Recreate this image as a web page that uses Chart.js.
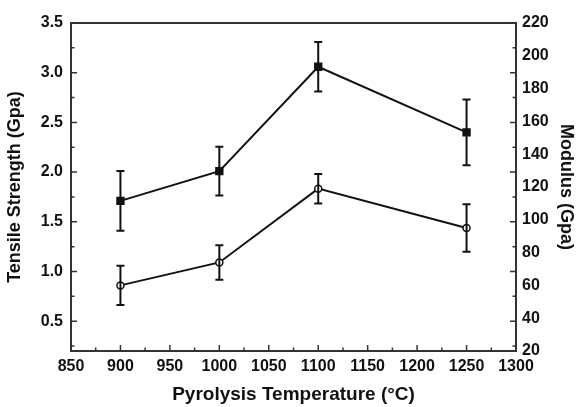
<!DOCTYPE html>
<html>
<head>
<meta charset="utf-8">
<script src="https://cdn.jsdelivr.net/npm/chart.js@4"></script>
<style>
  html, body { margin: 0; padding: 0; background: #fff; }
  #wrap { width: 577px; height: 407px; position: relative; }
</style>
</head>
<body>
<div id="wrap"><canvas id="c"></canvas></div>
<script>
// data
const temps = [900, 1000, 1100, 1250];
const strength = [1.71, 2.01, 3.06, 2.40];
const strengthErr = [0.30, 0.245, 0.25, 0.33];
const modulus = [60, 74, 119, 95];
const modulusErr = [12, 10.5, 9, 14.5];
const xTicks = [850, 900, 950, 1000, 1050, 1100, 1150, 1200, 1250, 1300];
const leftTicks = [0.5, 1.0, 1.5, 2.0, 2.5, 3.0, 3.5];
const rightTicks = [20, 40, 60, 80, 100, 120, 140, 160, 180, 200, 220];

const font = { family: 'Liberation Sans, Arial, sans-serif', weight: 'bold' };
const ink = '#111';

// error bars, frame and inward tick marks
const decor = {
  id: 'decor',
  afterDatasetsDraw(chart) {
    const { ctx, chartArea: a, scales } = chart;
    const x = scales.x, yl = scales.y, yr = scales.y2;
    ctx.save();
    ctx.strokeStyle = ink;
    ctx.lineWidth = 2;
    const bars = (vals, errs, ys) => {
      vals.forEach((v, i) => {
        const px = x.getPixelForValue(temps[i]);
        const top = ys.getPixelForValue(v + errs[i]);
        const bot = ys.getPixelForValue(v - errs[i]);
        ctx.beginPath();
        ctx.moveTo(px, top); ctx.lineTo(px, bot);
        ctx.moveTo(px - 4, top); ctx.lineTo(px + 4, top);
        ctx.moveTo(px - 4, bot); ctx.lineTo(px + 4, bot);
        ctx.stroke();
      });
    };
    bars(strength, strengthErr, yl);
    bars(modulus, modulusErr, yr);

    // frame
    ctx.strokeStyle = '#333';
    ctx.strokeRect(a.left, a.top, a.right - a.left, a.bottom - a.top);

    // ticks pointing inside
    ctx.lineWidth = 1.5;
    ctx.beginPath();
    for (let v = 850; v <= 1300; v += 25) {
      const px = x.getPixelForValue(v);
      const len = v % 50 === 0 ? 6 : 3.5;
      ctx.moveTo(px, a.bottom); ctx.lineTo(px, a.bottom - len);
    }
    for (let v = 0.25; v <= 3.5; v += 0.25) {
      const py = yl.getPixelForValue(v);
      const len = Math.abs(v * 2 - Math.round(v * 2)) < 1e-6 ? 6 : 3.5;
      ctx.moveTo(a.left, py); ctx.lineTo(a.left + len, py);
      ctx.moveTo(a.right, py); ctx.lineTo(a.right - len, py);
    }
    ctx.stroke();
    ctx.restore();
  }
};

new Chart(document.getElementById('c'), {
  type: 'line',
  data: {
    datasets: [
      {
        label: 'Tensile Strength',
        data: temps.map((t, i) => ({ x: t, y: strength[i] })),
        yAxisID: 'y',
        borderColor: ink, borderWidth: 2,
        pointStyle: 'rect', pointRadius: 4.5,
        pointBackgroundColor: ink, pointBorderColor: ink,
        tension: 0
      },
      {
        label: 'Modulus',
        data: temps.map((t, i) => ({ x: t, y: modulus[i] })),
        yAxisID: 'y2',
        borderColor: ink, borderWidth: 2,
        pointStyle: 'circle', pointRadius: 3.5, pointBorderWidth: 1.5,
        pointBackgroundColor: '#fff', pointBorderColor: ink,
        tension: 0
      }
    ]
  },
  options: {
    responsive: true, maintainAspectRatio: false, animation: false,
    layout: { padding: { top: 23, left: 0, right: 0, bottom: 0 } },
    plugins: { legend: { display: false }, tooltip: { enabled: false } },
    scales: {
      x: {
        type: 'linear', min: 850, max: 1300,
        afterBuildTicks: s => { s.ticks = xTicks.map(v => ({ value: v })); },
        afterFit: s => { s.height = 56; },
        grid: { display: false, drawTicks: false },
        border: { display: false },
        ticks: { color: ink, font: { ...font, size: 16 }, padding: 6, callback: v => String(v) },
        title: { display: true, text: 'Pyrolysis Temperature (°C)', color: ink, font: { ...font, size: 19 }, padding: { top: 4, bottom: 1 } }
      },
      y: {
        position: 'left', min: 0.2, max: 3.5,
        afterBuildTicks: s => { s.ticks = leftTicks.map(v => ({ value: v })); },
        afterFit: s => { s.width = 71; },
        grid: { display: false, drawTicks: false },
        border: { display: false },
        ticks: { color: ink, font: { ...font, size: 16 }, padding: 8, callback: v => v.toFixed(1) },
        title: { display: true, text: 'Tensile Strength (Gpa)', color: ink, font: { ...font, size: 18 }, padding: { bottom: 2 } }
      },
      y2: {
        position: 'right', min: 20, max: 220,
        afterBuildTicks: s => { s.ticks = rightTicks.map(v => ({ value: v })); },
        afterFit: s => { s.width = 61; },
        grid: { display: false, drawTicks: false },
        border: { display: false },
        ticks: { color: ink, font: { ...font, size: 16 }, padding: 6 },
        title: { display: true, text: 'Modulus (Gpa)', color: ink, font: { ...font, size: 18 }, padding: { top: 0 } }
      }
    }
  },
  plugins: [decor]
});
</script>
</body>
</html>
